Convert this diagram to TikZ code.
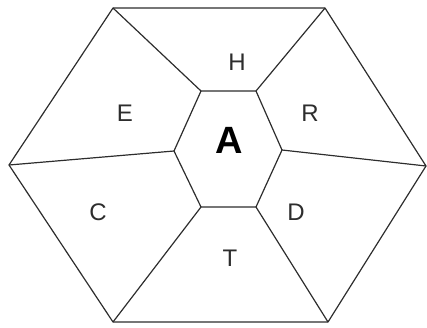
\documentclass[tikz,border=0pt]{standalone}
\usepackage{fontspec}
\setmainfont{Liberation Sans}
\definecolor{hexLine}{RGB}{45,45,45}

\begin{document}
\begin{tikzpicture}[x=1pt, y=-1pt,
    hexedge/.style={line width=1.2pt, draw=hexLine, line join=round},
    cellname/.style={font=\fontsize{24}{24}\selectfont, text=hexLine}]
  \useasboundingbox (0,0) rectangle (427,327);
  % outer hexagon
  \coordinate (o1) at (113,8);
  \coordinate (o2) at (325,8);
  \coordinate (o3) at (426,166);
  \coordinate (o4) at (328,322);
  \coordinate (o5) at (113,322);
  \coordinate (o6) at (9,165);
  % inner hexagon
  \coordinate (i1) at (201,91);
  \coordinate (i2) at (256,91);
  \coordinate (i3) at (282,150);
  \coordinate (i4) at (256,207);
  \coordinate (i5) at (201,207);
  \coordinate (i6) at (174,151);
  \draw[hexedge] (o1) -- (o2) -- (o3) -- (o4) -- (o5) -- (o6) -- cycle;
  \draw[hexedge] (i1) -- (i2) -- (i3) -- (i4) -- (i5) -- (i6) -- cycle;
  \foreach \k in {1,...,6}
    \draw[hexedge] (i\k) -- (o\k);
  % labels
  \node[cellname] (H) at (237,62) {H};
  \node[cellname] (E) at (125,113) {E};
  \node[cellname] (R) at (310,113) {R};
  \node[font=\fontsize{38}{38}\selectfont\bfseries, text=black] (A) at (229,140) {A};
  \node[cellname] (C) at (98,212) {C};
  \node[cellname] (D) at (296,212) {D};
  \node[cellname] (T) at (230,258) {T};
\end{tikzpicture}
\end{document}
